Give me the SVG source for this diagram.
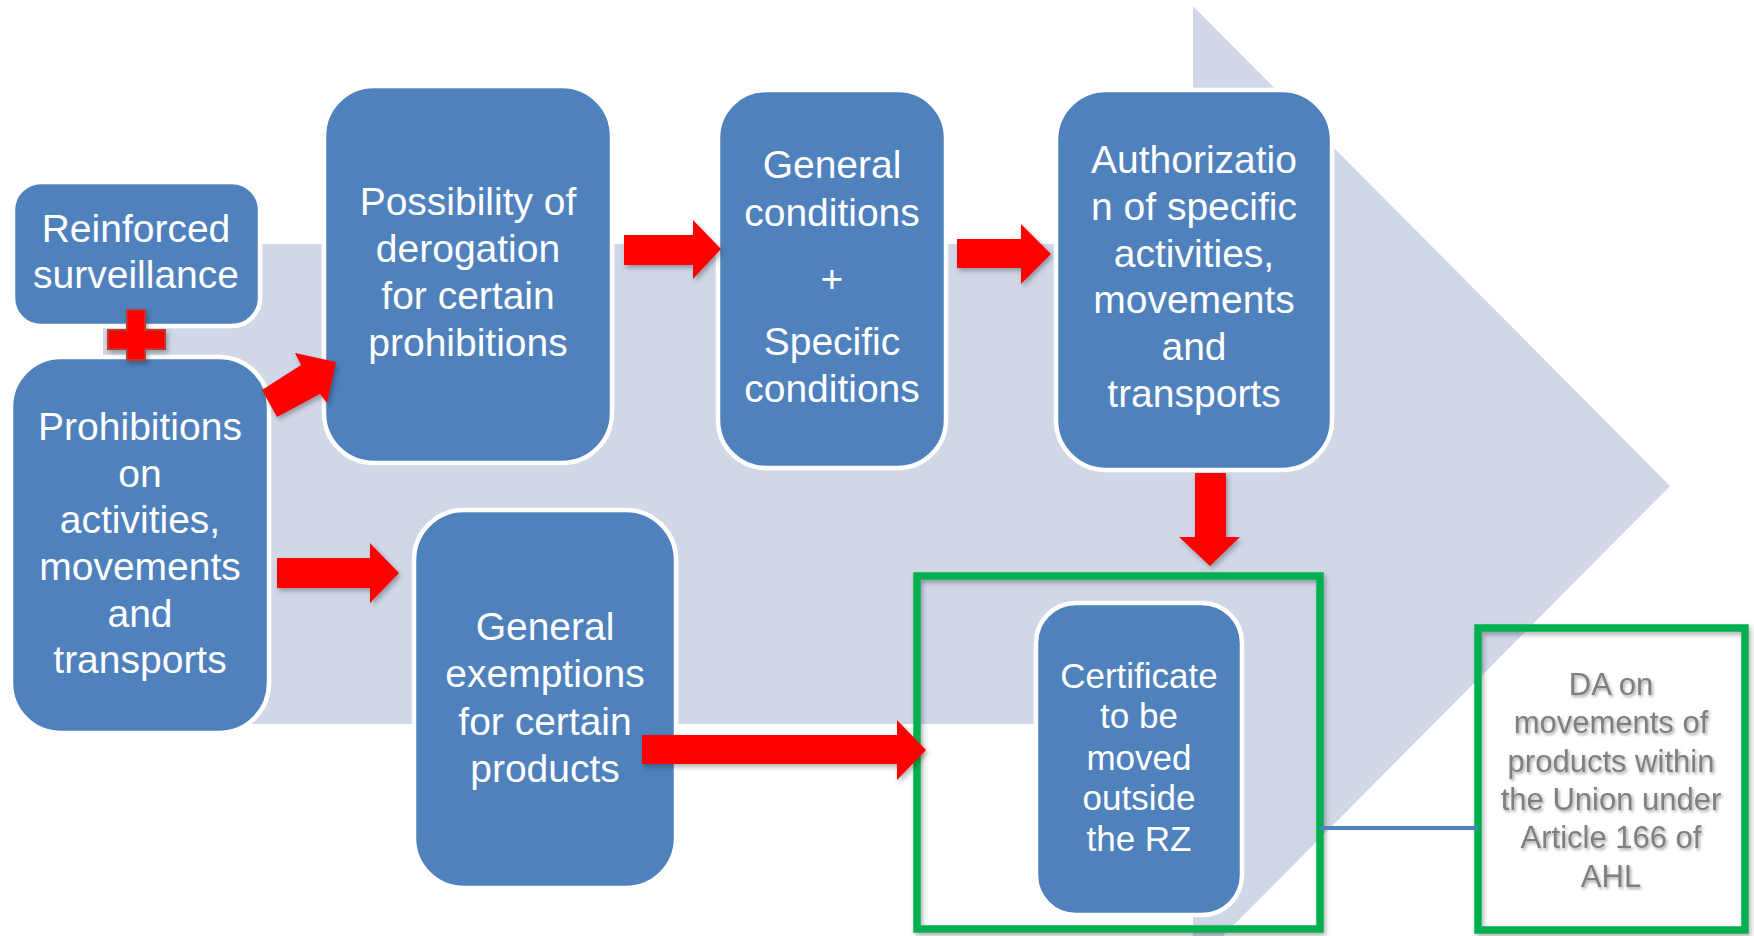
<svg xmlns="http://www.w3.org/2000/svg" width="1754" height="936" viewBox="0 0 1754 936">
<defs>
<filter id="sh" x="-20%" y="-20%" width="140%" height="140%">
<feDropShadow dx="2" dy="3" stdDeviation="2.5" flood-color="#000" flood-opacity="0.3"/>
</filter>
<filter id="tsh" x="-10%" y="-10%" width="120%" height="130%">
<feDropShadow dx="1.5" dy="2" stdDeviation="1.5" flood-color="#000" flood-opacity="0.35"/>
</filter>
</defs>
<style>
.box{fill:#4F81BD;stroke:#FFFFFF;stroke-width:4.5}
.t{font-family:"Liberation Sans",Arial,sans-serif;font-size:39px;fill:#FFFFFF;text-anchor:middle}
.ts{font-size:35px}
.da{font-family:"Liberation Sans",Arial,sans-serif;font-size:31px;fill:#7F7F7F;text-anchor:middle}
.green{fill:none;stroke:#00B050;stroke-width:7.5}
.arrow{fill:#FF0000}
</style>
<rect width="1754" height="936" fill="#FFFFFF"/>
<polygon id="background-arrow" points="103,244 1193,244 1193,6 1670,486 1193,966 1193,724 103,724" fill="#D0D8E8"/>

<g id="reinforced">
<rect class="box" x="13" y="182" width="247" height="144" rx="28"/>
<text class="t" x="136" y="242">Reinforced</text>
<text class="t" x="136" y="288">surveillance</text>
</g>
<g id="prohibitions">
<rect class="box" x="11" y="357" width="258" height="376" rx="50"/>
<text class="t" x="140" y="440">Prohibitions</text>
<text class="t" x="140" y="487">on</text>
<text class="t" x="140" y="533">activities,</text>
<text class="t" x="140" y="580">movements</text>
<text class="t" x="140" y="627">and</text>
<text class="t" x="140" y="673">transports</text>
</g>
<g id="possibility">
<rect class="box" x="324" y="86" width="288" height="377" rx="50"/>
<text class="t" x="468" y="215">Possibility of</text>
<text class="t" x="468" y="262">derogation</text>
<text class="t" x="468" y="309">for certain</text>
<text class="t" x="468" y="356">prohibitions</text>
</g>
<g id="conditions">
<rect class="box" x="718" y="90" width="228" height="378" rx="48"/>
<text class="t" x="832" y="178">General</text>
<text class="t" x="832" y="226">conditions</text>
<text class="t" x="832" y="292">+</text>
<text class="t" x="832" y="355">Specific</text>
<text class="t" x="832" y="402">conditions</text>
</g>
<g id="authorization">
<rect class="box" x="1056" y="90" width="276" height="380" rx="50"/>
<text class="t" x="1194" y="173">Authorizatio</text>
<text class="t" x="1194" y="220">n of specific</text>
<text class="t" x="1194" y="267">activities,</text>
<text class="t" x="1194" y="313">movements</text>
<text class="t" x="1194" y="360">and</text>
<text class="t" x="1194" y="407">transports</text>
</g>
<g id="exemptions">
<rect class="box" x="414" y="510" width="262" height="378" rx="50"/>
<text class="t" x="545" y="640">General</text>
<text class="t" x="545" y="687">exemptions</text>
<text class="t" x="545" y="735">for certain</text>
<text class="t" x="545" y="782">products</text>
</g>
<g id="certificate">
<rect class="green" x="917" y="576" width="403" height="353" filter="url(#sh)"/>
<rect class="box" x="1036" y="603" width="206" height="312" rx="40"/>
<text class="t ts" x="1139" y="688">Certificate</text>
<text class="t ts" x="1139" y="728">to be</text>
<text class="t ts" x="1139" y="770">moved</text>
<text class="t ts" x="1139" y="810">outside</text>
<text class="t ts" x="1139" y="851">the RZ</text>
</g>
<g id="da-box">
<rect class="green" x="1478" y="628" width="267" height="302" filter="url(#sh)"/>
<g filter="url(#tsh)">
<text class="da" x="1611" y="695">DA on</text>
<text class="da" x="1611" y="733">movements of</text>
<text class="da" x="1611" y="772">products within</text>
<text class="da" x="1611" y="810">the Union under</text>
<text class="da" x="1611" y="848">Article 166 of</text>
<text class="da" x="1611" y="887">AHL</text>
</g>
</g>

<g id="connectors">
<line x1="1320" y1="828" x2="1478" y2="828" stroke="#4F81BD" stroke-width="4"/>
<g filter="url(#sh)">
<polygon class="arrow" points="108,330 127,330 127,310 145,310 145,330 165,330 165,349 145,349 145,360 127,360 127,349 108,349" stroke="#C0392B" stroke-width="2"/>
<polygon class="arrow" points="262,390 301,365 295,353 336,362 327,403 320,394 277,417"/>
<polygon class="arrow" points="624,235 693,235 693,220 721,249 693,279 693,265 624,265"/>
<polygon class="arrow" points="957,239 1021,239 1021,224 1051,254 1021,284 1021,268 957,268"/>
<polygon class="arrow" points="1195,473 1226,473 1226,537 1240,537 1210,566 1179,537 1195,537"/>
<polygon class="arrow" points="277,558 370,558 370,543 399,573 370,603 370,588 277,588"/>
<polygon class="arrow" points="642,735 897,735 897,720 926,750 897,780 897,764 642,764"/>
</g>
</g>
</svg>
